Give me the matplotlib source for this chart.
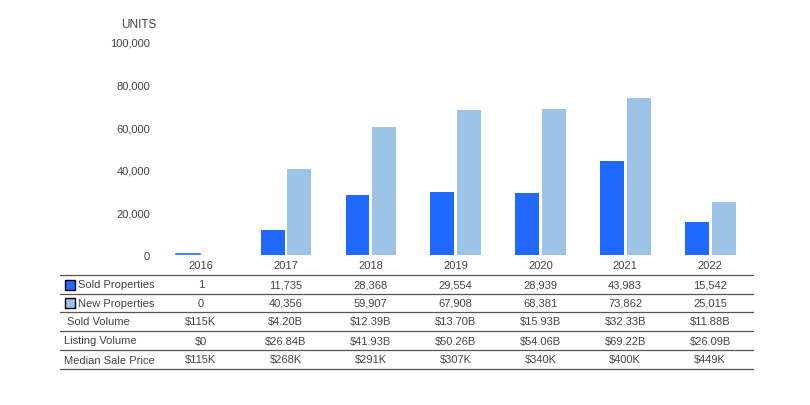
import matplotlib.pyplot as plt
from matplotlib.transforms import blended_transform_factory
from matplotlib.patches import Rectangle

plt.rcParams['font.family'] = ['Liberation Sans', 'DejaVu Sans']

years = ['2016', '2017', '2018', '2019', '2020', '2021', '2022']
sold = [1, 11735, 28368, 29554, 28939, 43983, 15542]
new = [0, 40356, 59907, 67908, 68381, 73862, 25015]
sold_volume = ['$115K', '$4.20B', '$12.39B', '$13.70B', '$15.93B', '$32.33B', '$11.88B']
listing_volume = ['$0', '$26.84B', '$41.93B', '$50.26B', '$54.06B', '$69.22B', '$26.09B']
median_price = ['$115K', '$268K', '$291K', '$307K', '$340K', '$400K', '$449K']

sold_color = '#1F69FF'
new_color = '#9DC3E6'
text_color = '#444444'
W, H = 810, 406

fig = plt.figure(figsize=(8.1, 4.06), dpi=100)
ax = fig.add_axes([158.5 / W, 150 / H, 594 / W, 213 / H])

x = list(range(len(years)))
bw = 0.28
ax.bar([i - 0.155 for i in x], sold, bw, color=sold_color)
ax.bar([i + 0.16 for i in x], new, bw, color=new_color)
# tiny 2016 value still shows as a thin line
ax.plot([-0.155 - bw / 2, -0.155 + bw / 2], [300, 300], color=sold_color, lw=1.2)

ax.set_xlim(-0.5, len(years) - 0.5)
ax.set_ylim(0, 100000)
ax.set_yticks(range(0, 100001, 20000))
ax.set_yticklabels(['0'] + [f'{v:,}' for v in range(20000, 100001, 20000)])
ax.tick_params(axis='y', length=0, pad=6, labelsize=8, labelcolor=text_color)
ax.set_xticks([])
for s in ax.spines.values():
    s.set_visible(False)

fig.text(139 / W, 1 - 25 / H, 'UNITS', ha='center', va='center', fontsize=8.5, color=text_color)

trans = blended_transform_factory(ax.transData, fig.transFigure)

def fy(py):
    return 1 - py / H

# year labels
for i, yr in enumerate(years):
    ax.text(i, fy(266), yr, transform=trans, ha='center', va='center',
            fontsize=8, color=text_color, clip_on=False)

rows = [
    ('Sold Properties', [f'{v:,}' for v in sold], sold_color),
    ('New Properties', [f'{v:,}' for v in new], new_color),
    ('Sold Volume', sold_volume, None),
    ('Listing Volume', listing_volume, None),
    ('Median Sale Price', median_price, None),
]
line_ys = [276, 295, 313, 332, 351, 370]
for ly in line_ys:
    fig.add_artist(plt.Line2D([60 / W, 753 / W], [fy(ly), fy(ly)],
                              transform=fig.transFigure, color='#555555', lw=0.9))

for r, (label, vals, swatch) in enumerate(rows):
    cy = (line_ys[r] + line_ys[r + 1]) / 2
    if swatch is not None:
        fig.add_artist(Rectangle((65 / W, fy(cy + 5)), 10 / W, 10 / H,
                                 transform=fig.transFigure, facecolor=swatch,
                                 edgecolor='black', lw=1))
        lx = 78
    elif label == 'Sold Volume':
        lx = 67
    else:
        lx = 64
    fig.text(lx / W, fy(cy), label, ha='left', va='center', fontsize=8, color=text_color)
    for i, v in enumerate(vals):
        ax.text(i, fy(cy), v, transform=trans, ha='center', va='center',
                fontsize=8, color=text_color, clip_on=False)

fig.savefig('out.png', dpi=100)
